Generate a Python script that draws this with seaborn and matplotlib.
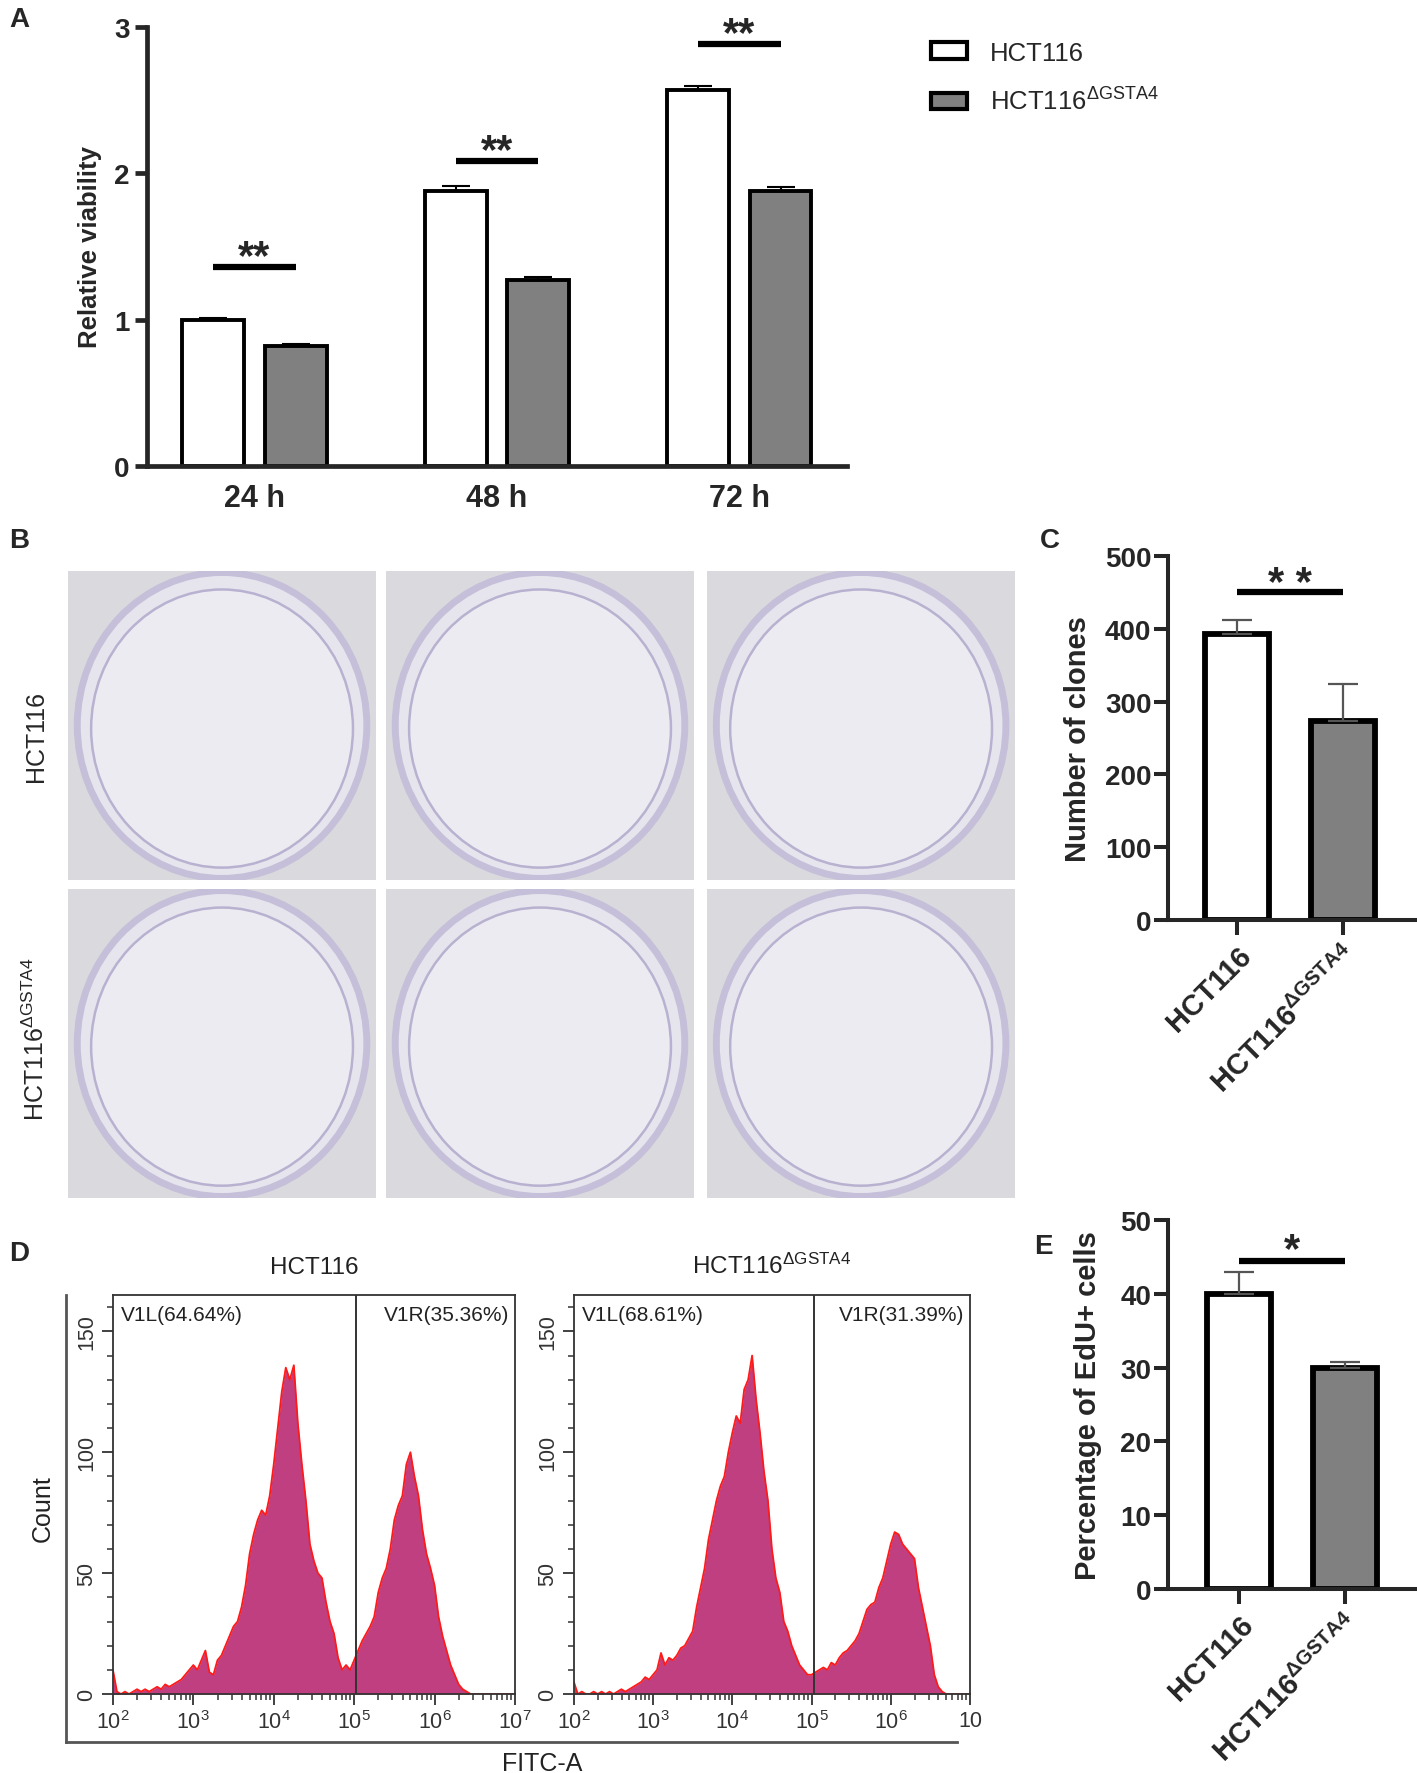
import numpy as np
import pandas as pd
import seaborn as sns
import matplotlib.pyplot as plt
from matplotlib.patches import Patch, Ellipse
from matplotlib.ticker import LogLocator, MultipleLocator, NullFormatter

sns.set_style('ticks')
plt.rcParams['font.family'] = ['Liberation Sans', 'DejaVu Sans']
plt.rcParams['mathtext.fontset'] = 'custom'
plt.rcParams['mathtext.rm'] = 'Liberation Sans'
plt.rcParams['mathtext.bf'] = 'Liberation Sans:bold'
plt.rcParams['mathtext.it'] = 'Liberation Sans:italic'

# ---- data ----
times = ['24 h', '48 h', '72 h']
groups = ['HCT116', 'HCT116ΔGSTA4']
viab_wt = [1.00, 1.88, 2.57]
viab_ko = [0.82, 1.27, 1.88]
viab_wt_err = [0.01, 0.03, 0.025]
viab_ko_err = [0.01, 0.02, 0.025]
viab_sig = [1.36, 2.08, 2.88]

clones = [393, 273]
clones_err = [19, 51]
edu = [40, 30]
edu_err = [3, 0.8]

# flow histogram, log10(FITC-A) channel centres and counts
facs_logx = np.linspace(2.0, 7.0, 101)
facs_wt = [10, 1, 0, 1, 0, 1, 2, 1, 2, 1,
           2, 3, 2, 4, 3, 4, 5, 6, 8, 10,
           12, 10, 14, 18, 9, 8, 14, 16, 20, 24,
           28, 30, 36, 45, 58, 66, 72, 76, 74, 82,
           95, 110, 125, 135, 130, 136, 112, 95, 80, 62,
           55, 50, 48, 38, 30, 25, 15, 10, 12, 10,
           14, 18, 22, 25, 28, 32, 42, 48, 52, 60,
           72, 78, 82, 95, 100, 90, 82, 68, 58, 52,
           45, 32, 24, 18, 12, 8, 4, 2, 1, 0,
           0, 0, 0, 0, 0, 0, 0, 0, 0, 0, 0]
facs_ko = [5, 0, 1, 0, 0, 1, 0, 1, 0, 1,
           0, 1, 2, 1, 2, 3, 4, 5, 7, 6,
           8, 10, 17, 12, 15, 14, 16, 19, 20, 23,
           26, 36, 44, 52, 64, 72, 80, 86, 90, 100,
           108, 115, 112, 126, 130, 140, 122, 108, 92, 80,
           60, 48, 42, 30, 26, 20, 16, 12, 10, 8,
           8, 9, 10, 11, 10, 13, 12, 15, 17, 18,
           20, 22, 25, 30, 35, 37, 38, 44, 48, 55,
           62, 67, 66, 62, 60, 58, 56, 44, 36, 28,
           20, 8, 3, 1, 0, 0, 0, 0, 0, 0, 0]
gate_x = 1.07e5
facs_pct = [('V1L(64.64%)', 'V1R(35.36%)'), ('V1L(68.61%)', 'V1R(31.39%)')]

bar_white = 'white'
bar_gray = '#808080'
ko_label = r'HCT116$^{\mathrm{\Delta GSTA4}}$'
ko_label_bold = r'$\mathbf{HCT116^{\Delta GSTA4}}$'

fig = plt.figure(figsize=(14.17, 17.74), dpi=100)

# ---------------- A ----------------
dfA = pd.DataFrame({'time': times * 2,
                    'group': [groups[0]] * 3 + [groups[1]] * 3,
                    'value': viab_wt + viab_ko})
axA = fig.add_axes([0.1037, 0.7368, 0.494, 0.2475])
sns.barplot(data=dfA, x='time', y='value', hue='group',
            palette=[bar_white, bar_gray], edgecolor='black', linewidth=2.8,
            width=0.68, gap=0.25, errorbar=None, legend=False, ax=axA)
centers = []
for cont, errs in zip(axA.containers, [viab_wt_err, viab_ko_err]):
    cs = []
    for bar, e in zip(cont, errs):
        xc = bar.get_x() + bar.get_width() / 2
        cs.append(xc)
        axA.errorbar(xc, bar.get_height(), yerr=[[0], [e]], color='black',
                     capsize=10, elinewidth=1.5, capthick=1.5, zorder=3)
    centers.append(cs)
for i, y in enumerate(viab_sig):
    axA.plot([centers[0][i], centers[1][i]], [y, y], color='black', lw=4.5,
             solid_capstyle='butt', clip_on=False)
    axA.text((centers[0][i] + centers[1][i]) / 2, y - 0.005, '**', ha='center',
             va='baseline', fontsize=30, fontweight='bold', clip_on=False)
axA.set_xlim(-0.444, 2.444)
axA.set_ylim(0, 3)
axA.set_yticks([0, 1, 2, 3])
sns.despine(ax=axA)
for s in ['left', 'bottom']:
    axA.spines[s].set_linewidth(3.4)
axA.tick_params(axis='y', width=3.4, length=8.5, direction='out', pad=4)
axA.tick_params(axis='x', length=0, pad=12)
narrow = ['Liberation Sans Narrow', 'Liberation Sans']
for lab in axA.get_yticklabels():
    lab.set_fontfamily(narrow); lab.set_fontweight('bold'); lab.set_fontsize(20)
for lab in axA.get_xticklabels():
    lab.set_fontfamily(narrow); lab.set_fontweight('bold'); lab.set_fontsize(22)
axA.set_xlabel('')
axA.set_ylabel('Relative viability', fontsize=18.5, fontweight='bold')
axA.yaxis.set_label_coords(-0.064, 0.5)

handles = [Patch(facecolor=c, edgecolor='black', linewidth=3) for c in [bar_white, bar_gray]]
fig.legend(handles, [groups[0], ko_label], loc='upper left',
           bbox_to_anchor=(0.657, 0.9765), frameon=False, fontsize=18.5,
           handlelength=1.4, handleheight=0.6, labelspacing=0.9,
           handletextpad=0.9, borderpad=0, borderaxespad=0)

# ---------------- B (plates) ----------------
col_left = [0.048, 0.2724, 0.499]
row_bottom = [0.5034, 0.3241]
for r in range(2):
    for c in range(3):
        ax = fig.add_axes([col_left[c], row_bottom[r], 0.2174, 0.1742])
        ax.set_facecolor('#dadade')
        ax.add_patch(Ellipse((0.5, 0.5), 0.94, 0.99, transform=ax.transAxes,
                             fc='#e6e5ee', ec='#c6bfd9', lw=5))
        ax.add_patch(Ellipse((0.5, 0.49), 0.85, 0.9, transform=ax.transAxes,
                             fc='#ecebf2', ec='#b9b1d0', lw=1.8))
        ax.set_xticks([]); ax.set_yticks([])
        for s in ax.spines.values():
            s.set_visible(False)
fig.text(0.0254, 0.585, groups[0], rotation=90, ha='center', va='center', fontsize=18)
fig.text(0.0254, 0.4143, ko_label, rotation=90, ha='center', va='center', fontsize=18)


# ---------------- C and E ----------------
def two_bars(rect, values, errs, ymax, ystep, ylabel, sig_y, star_y, stars, xlim, lab_x):
    ax = fig.add_axes(rect)
    df = pd.DataFrame({'group': groups, 'value': values})
    sns.barplot(data=df, x='group', y='value', hue='group',
                palette=[bar_white, bar_gray], edgecolor='black', linewidth=4.2,
                width=0.6, errorbar=None, legend=False, ax=ax)
    ax.errorbar([0, 1], values, yerr=[[0, 0], errs], fmt='none', ecolor='#555555',
                capsize=11, elinewidth=1.6, capthick=1.6, zorder=3)
    ax.plot([0, 1], [sig_y, sig_y], color='black', lw=4.5, solid_capstyle='butt',
            clip_on=False)
    ax.text(0.5, star_y, stars, ha='center', va='baseline', fontsize=30,
            fontweight='bold', clip_on=False)
    ax.set_xlim(*xlim)
    ax.set_ylim(0, ymax)
    ax.set_yticks(np.arange(0, ymax + 1, ystep))
    sns.despine(ax=ax)
    for s in ['left', 'bottom']:
        ax.spines[s].set_linewidth(2.9)
    ax.tick_params(axis='y', width=2.9, length=10, labelsize=20, pad=2)
    ax.tick_params(axis='x', width=2.9, length=11, pad=4)
    for lab in ax.get_yticklabels():
        lab.set_fontweight('bold')
    ax.set_xticks([0, 1])
    ax.set_xticklabels([groups[0], ko_label_bold], rotation=45, ha='right',
                       rotation_mode='anchor', fontsize=21, fontweight='bold')
    ax.set_xlabel('')
    ax.set_ylabel(ylabel, fontsize=21, fontweight='bold')
    ax.yaxis.set_label_coords(lab_x, 0.5)
    return ax


two_bars([0.8243, 0.4808, 0.1743, 0.2052], clones, clones_err, 500, 100,
         'Number of clones', 450, 446, '* *', (-0.65, 1.68), -0.308)
two_bars([0.8243, 0.1037, 0.1757, 0.208], edu, edu_err, 50, 10,
         'Percentage of EdU+ cells', 44.4, 44.5, '*', (-0.67, 1.68), -0.265)

# ---------------- D (flow histograms) ----------------
frame = fig.add_axes([0.0466, 0.0175, 0.6288, 0.252])
frame.set_facecolor('none')
frame.set_xticks([]); frame.set_yticks([])
for s in ['top', 'right']:
    frame.spines[s].set_visible(False)
for s in ['left', 'bottom']:
    frame.spines[s].set_color('#555555'); frame.spines[s].set_linewidth(2)

xvals = 10 ** facs_logx
facs_sets = [(facs_wt, groups[0], [0.0797, 0.0445, 0.2837, 0.2249], r'$10^7$'),
             (facs_ko, ko_label, [0.405, 0.0445, 0.2795, 0.2249], '10')]
for (counts, title, rect, last), (ltxt, rtxt) in zip(facs_sets, facs_pct):
    ax = fig.add_axes(rect)
    ax.fill_between(xvals, counts, color='#bf3f80', lw=0)
    ax.plot(xvals, counts, color='#ff1a1a', lw=1.3)
    ax.axvline(gate_x, color='#333333', lw=1.4)
    ax.set_xscale('log')
    ax.set_xlim(1e2, 1e7)
    ax.set_ylim(0, 165)
    ax.set_xticks([1e2, 1e3, 1e4, 1e5, 1e6, 1e7])
    ax.set_xticklabels([r'$10^2$', r'$10^3$', r'$10^4$', r'$10^5$', r'$10^6$', last])
    ax.xaxis.set_minor_locator(LogLocator(base=10, subs=np.arange(2, 10)))
    ax.xaxis.set_minor_formatter(NullFormatter())
    ax.set_yticks([0, 50, 100, 150])
    ax.yaxis.set_minor_locator(MultipleLocator(10))
    ax.tick_params(axis='both', which='major', length=8, width=1.3, labelsize=15.5,
                   colors='#333333', labelcolor='#333333')
    ax.tick_params(axis='both', which='minor', length=4, width=1.1, colors='#333333')
    ax.tick_params(axis='y', which='major', labelrotation=90)
    for lab in ax.get_yticklabels():
        lab.set_va('center')
    for s in ax.spines.values():
        s.set_color('#333333'); s.set_linewidth(1.3)
    ax.set_title(title, fontsize=17.5, pad=16, color='#222222')
    ax.text(0.02, 0.952, ltxt, transform=ax.transAxes, va='center', ha='left',
            fontsize=15, color='#222222')
    ax.text(0.985, 0.952, rtxt, transform=ax.transAxes, va='center', ha='right',
            fontsize=15, color='#222222')

fig.text(0.0303, 0.1494, 'Count', rotation=90, ha='center', va='center', fontsize=18,
         color='#222222')
fig.text(0.3825, 0.0124, 'FITC-A', ha='center', va='top', fontsize=18, color='#222222')

# panel letters
for letter, (px, py) in {'A': (9, 20), 'B': (9, 541), 'C': (1040, 541),
                          'D': (9, 1254), 'E': (1034, 1247)}.items():
    fig.text(px / 1417, 1 - py / 1774, letter, ha='left', va='center',
             fontsize=20, fontweight='bold')

fig.savefig('out.png', dpi=100, facecolor='white')
